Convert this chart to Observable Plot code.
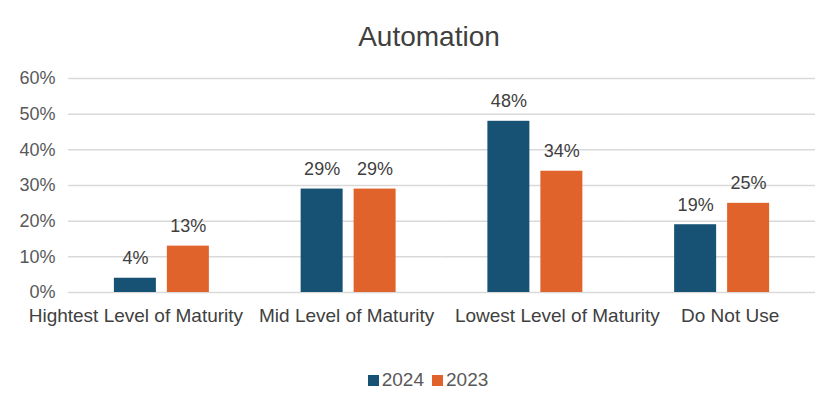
<!DOCTYPE html>
<html><head>
<meta charset="utf-8">
<script src="https://cdn.jsdelivr.net/npm/d3@7"></script>
<script src="https://cdn.jsdelivr.net/npm/@observablehq/plot@0.6"></script>
<style>
body{margin:0;background:#fff;font-family:"Liberation Sans",Arial,sans-serif;}
#wrap{position:relative;width:823px;height:396px;overflow:hidden;}
#title{position:absolute;left:0;top:21px;width:858px;text-align:center;font-size:28px;line-height:32px;color:#404040;}
#chart{position:absolute;left:0;top:60px;}
#legend{position:absolute;top:369px;left:0;width:856px;text-align:center;font-size:19px;line-height:22px;color:#595959;}
#legend span.sw{display:inline-block;width:11px;height:11px;margin-right:3px;vertical-align:0px;}
#legend span.it{margin:0 4px;}
</style>
</head><body>
<div id="wrap">
<div id="title">Automation</div>
<div id="chart"></div>
<div id="legend"></div>
</div>
<script>
const categories = ["Hightest Level of Maturity","Mid Level of Maturity","Lowest Level of Maturity","Do Not Use"];
const years = ["2024","2023"];
const values2024 = [4,29,48,19];
const values2023 = [13,29,34,25];
const yTicks = [0,10,20,30,40,50,60];
const colors = ["#175173","#e0632b"];
// layout only: horizontal nudges of category labels (as in the original, to avoid overlap)
const labelNudge = [-26,-2,22,8];

const data = categories.flatMap((c,i)=>[
  {category:c,year:years[0],value:values2024[i]},
  {category:c,year:years[1],value:values2023[i]}
]);

const font = '"Liberation Sans",Arial,sans-serif';
const chart = Plot.plot({
  width:823, height:290,
  marginTop:18, marginBottom:58, marginLeft:68, marginRight:8,
  style:{fontFamily:font, color:"#595959", background:"#fff"},
  fx:{domain:categories, padding:0, label:null, axis:null, round:false},
  x:{domain:years, paddingInner:0.2075, paddingOuter:0.866, axis:null, round:false},
  y:{domain:[0,60], label:null},
  color:{domain:years, range:colors},
  marks:[
    Plot.ruleY(yTicks,{stroke:"#d9d9d9",strokeWidth:1.5}),
    Plot.axisY({ticks:yTicks, tickSize:0, tickPadding:13, tickFormat:d=>d+"%", label:null, fontSize:18, fill:"#595959"}),
    Plot.barY(data,{fx:"category",x:"year",y:"value",fill:"year"}),
    Plot.text(data,{fx:"category",x:"year",y:"value",text:d=>d.value+"%",dy:-14,lineAnchor:"bottom",fill:"#404040",fontSize:18}),
    ...categories.map((c,i)=>Plot.text([c],{fx:d=>d, text:d=>d, frameAnchor:"bottom", lineAnchor:"top", dy:16, dx:labelNudge[i], fontSize:19, fill:"#404040"}))
  ]
});
document.getElementById("chart").appendChild(chart);

const lg = document.getElementById("legend");
years.forEach((y,i)=>{
  const it = document.createElement("span");
  it.className="it";
  it.innerHTML = `<span class="sw" style="background:${colors[i]}"></span>${y}`;
  lg.appendChild(it);
});
</script>
</body></html>
